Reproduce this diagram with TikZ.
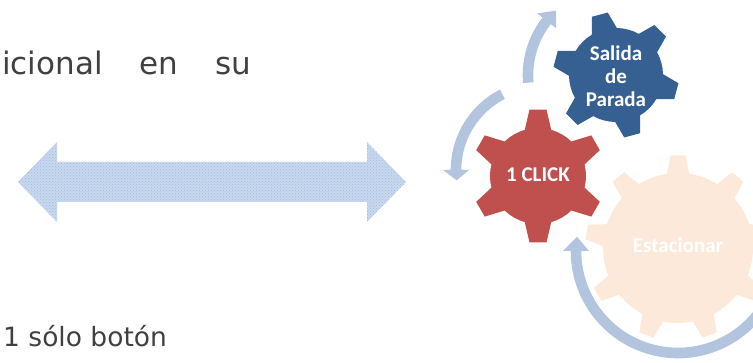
\documentclass[tikz,border=0pt]{standalone}
\usepackage{fontspec}
\setmainfont{DejaVu Sans}
\newfontfamily\gearfont{Carlito}
\usetikzlibrary{calc,patterns}

\definecolor{bodytext}{RGB}{64,64,64}
\definecolor{cogred}{RGB}{192,80,77}
\definecolor{cogblue}{RGB}{55,96,146}
\definecolor{cogpeach}{RGB}{253,233,217}
\definecolor{ringblue}{RGB}{178,196,222}
\definecolor{barlight}{RGB}{200,216,238}
\definecolor{bardots}{RGB}{160,188,226}

% Gear outline: #1 centre, #2 teeth, #3 body radius, #4 tip radius,
% #5 half-angle at tooth root, #6 half-angle at tooth tip,
% #7 angle of the first tooth, #8 fill colour
\newcommand{\gearshape}[8]{%
  \begin{scope}[shift={#1}]
    \fill[#8] ({#7-#5}:#3)
      \foreach \k [evaluate=\k as \a using {#7+(\k-1)*360/#2}] in {1,...,#2} {
        -- ({\a-#6}:#4) -- ({\a+#6}:#4) -- ({\a+#5}:#3)
        arc[start angle={\a+#5}, end angle={\a+360/#2-#5}, radius=#3]
      } -- cycle;
  \end{scope}}

% Curved band arrow: #1 centre, #2 radius, #3 tail angle, #4 angle where
% the head starts, #5 tip angle, #6 half band width, #7 half head width
\newcommand{\ringarrow}[7]{%
  \begin{scope}[shift={#1}]
    \fill[ringblue] (#3:{#2+#6})
      arc[start angle=#3, end angle=#4, radius={#2+#6}]
      -- (#4:{#2+#7}) -- (#5:#2) -- (#4:{#2-#7}) -- (#4:{#2-#6})
      arc[start angle=#4, end angle=#3, radius={#2-#6}] -- cycle;
  \end{scope}}

\tikzset{
  bodyline/.style={text=bodytext, inner sep=0pt, anchor=base west},
  cogtext/.style={text=white, inner sep=0pt, align=center,
    font=\gearfont\bfseries\fontsize{21}{23}\selectfont},
  dottedfill/.style={preaction={fill=barlight},
    pattern=crosshatch dots, pattern color=bardots},
}

\begin{document}
\begin{tikzpicture}[x=1pt,y=1pt]
  \clip (0,0) rectangle (753,363);

  % running text
  \node[bodyline, font=\fontsize{31}{37}\selectfont] (topline) at (2,288)
    {icional\hspace{37pt}en\hspace{37pt}su};
  \node[bodyline, font=\fontsize{26.5}{32}\selectfont] (button) at (3,16)
    {1 sólo botón};

  % double-headed block arrow
  \path[dottedfill] (18,181) -- (57,221) -- (57,201) -- (367,201) -- (367,221)
    -- (406,181) -- (367,141) -- (367,161) -- (57,161) -- (57,141) -- cycle;

  % gears
  \gearshape{(678,115)}{9}{75}{93}{8.5}{4.6}{90}{cogpeach}
  \gearshape{(616,288)}{6}{47}{63}{16}{7.5}{-15}{cogblue}
  \gearshape{(538,187)}{6}{48}{67}{16}{7.3}{90}{cogred}

  \node[cogtext] (park)  at (678,118) {Estacionar};
  \node[cogtext] (exit)  at (616,287) {Salida\\de\\Parada};
  \node[cogtext] (click) at (538,188) {1 CLICK};

  % circular arrows around the gears
  \ringarrow{(616,288)}{88}{185}{142}{133}{5.3}{12}
  \ringarrow{(541,193)}{85}{117}{180}{187}{5.3}{13}
  \ringarrow{(678,112)}{102}{-10}{-180}{-188}{5.3}{13}
\end{tikzpicture}
\end{document}
